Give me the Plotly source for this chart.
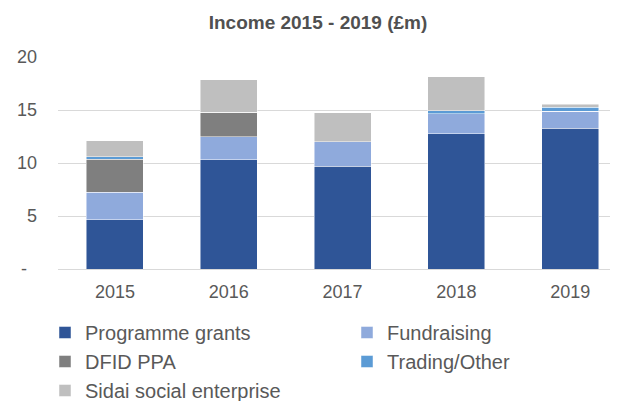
import plotly.graph_objects as go

years = ['2015', '2016', '2017', '2018', '2019']

programme_grants = [4.67, 10.32, 9.68, 12.74, 13.27]
fundraising = [2.55, 2.17, 2.31, 1.93, 1.63]
dfid_ppa = [3.13, 2.30, 0, 0, 0]
trading_other = [0.22, 0, 0, 0.25, 0.38]
sidai = [1.51, 3.07, 2.77, 3.22, 0.26]

series = [
    ('Programme grants', programme_grants, '#2F5597'),
    ('Fundraising', fundraising, '#8FAADC'),
    ('DFID PPA', dfid_ppa, '#7F7F7F'),
    ('Trading/Other', trading_other, '#5B9BD5'),
    ('Sidai social enterprise', sidai, '#BFBFBF'),
]

fig = go.Figure()
for name, vals, col in series:
    fig.add_trace(go.Bar(x=years, y=vals, name=name,
                         marker_color=col,
                         marker_line=dict(color='rgba(255,255,255,0.6)', width=0.8)))

# page has an 8px body margin, so the figure is 8px smaller than the window
W, H = 610, 393
fig.update_layout(
    barmode='stack',
    bargap=0.5,
    width=W, height=H,
    paper_bgcolor='white',
    plot_bgcolor='white',
    font=dict(family='Liberation Sans, Arial', size=18, color='#595959'),
    title=dict(text='<b>Income 2015 - 2019 (£m)</b>',
               x=310/W, xanchor='center',
               y=1 - 14/H, yanchor='middle',
               font=dict(size=19, color='#505050')),
    margin=dict(l=50, r=0, t=49, b=132, autoexpand=False),
    legend=dict(orientation='h', x=-0.0232, xanchor='left',
                y=-0.2075, yanchor='top',
                entrywidth=257, entrywidthmode='pixels',
                traceorder='normal',
                font=dict(size=20, color='#595959'),
                bgcolor='rgba(0,0,0,0)'),
    showlegend=True,
)
fig.update_xaxes(range=[-0.5, 4.42], showgrid=False, showline=False,
                 ticks='', ticklabelstandoff=10)
fig.update_yaxes(range=[0, 20], tickvals=[0, 5, 10, 15, 20],
                 ticktext=['-\u00a0\u00a0', '5', '10', '15', '20'],
                 showgrid=True, gridcolor='#D9D9D9', gridwidth=1,
                 zeroline=True, zerolinecolor='#D9D9D9', zerolinewidth=1,
                 showline=False, ticks='', ticklabelstandoff=20)

fig.write_html("out.html")
